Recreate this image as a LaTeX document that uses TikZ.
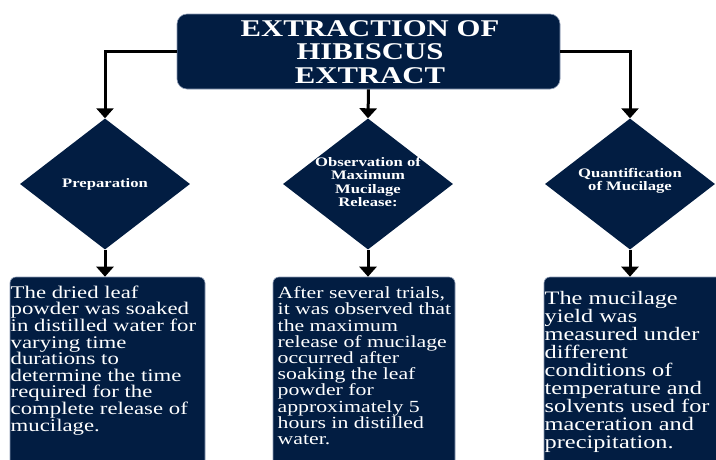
\documentclass[tikz,border=0pt]{standalone}
\usepackage{fontspec}
\usetikzlibrary{shapes.geometric,arrows.meta}
\setmainfont{Liberation Serif}
\newfontfamily\wideserif[FakeStretch=1.28]{Liberation Serif}
\definecolor{navy}{RGB}{2,29,66}
\definecolor{rim}{RGB}{140,155,180}
\begin{document}
\begin{tikzpicture}[x=1pt,y=-1pt,
  panel/.style={fill=navy,draw=rim,line width=0.6pt},
  headbox/.style={panel,rounded corners=10pt,minimum width=383pt,minimum height=75pt,inner sep=0pt},
  decision/.style={diamond,fill=navy,minimum width=170pt,minimum height=131pt,inner sep=0pt},
  decisiontext/.style={text=white,align=center,inner sep=0pt,
    font=\wideserif\bfseries\fontsize{13}{13.3}\selectfont},
  stepbox/.style={panel,rounded corners=6pt,minimum height=220pt,inner sep=0pt},
  bodytext/.style={text=white,align=left,anchor=north west,inner sep=0pt},
  flow/.style={line width=3pt,-{Triangle[width=17pt,length=10pt]}}
]
\useasboundingbox (0,0) rectangle (716,459);
\clip (0,0) rectangle (716,459);
\fill[white] (0,0) rectangle (716,459);

% heading
\node[headbox] (head) at (368.5,51.5) {};
\node[text=white,align=center,inner sep=0pt,
  font=\wideserif\bfseries\fontsize{24}{23.5}\selectfont] (headtext) at (370,52)
  {EXTRACTION OF\\HIBISCUS\\EXTRACT};

% decision diamonds
\node[decision] (prep) at (105,184) {};
\node[decision] (obs) at (368,184) {};
\node[decision] (quant) at (630,184) {};
\node[decisiontext] (preptext) at (prep.center) {Preparation};
\node[decisiontext] (obstext) at (368,182) {Observation of\\Maximum\\Mucilage\\Release:};
\node[decisiontext] (quanttext) at (630,181) {Quantification\\of Mucilage};

% description panels
\node[stepbox,minimum width=195pt] (prepbox) at (107.5,387) {};
\node[stepbox,minimum width=182pt] (obsbox) at (364,387) {};
\node[stepbox,minimum width=200pt] (quantbox) at (644,387) {};

\node[bodytext,font=\wideserif\fontsize{17.8}{16.6}\selectfont] (preptxt) at (10.5,285.5)
  {The dried leaf\\powder was soaked\\in distilled water for\\varying time\\durations to\\determine the time\\required for the\\complete release of\\mucilage.};
\node[bodytext,font=\wideserif\fontsize{17}{16.2}\selectfont] (obstxt) at (277.5,286.5)
  {After several trials,\\it was observed that\\the maximum\\release of mucilage\\occurred after\\soaking the leaf\\powder for\\approximately 5\\hours in distilled\\water.};
\node[bodytext,font=\wideserif\fontsize{19}{18}\selectfont] (quanttxt) at (544.5,291.5)
  {The mucilage\\yield was\\measured under\\different\\conditions of\\temperature and\\solvents used for\\maceration and\\precipitation.};

% connectors
\draw[flow] (head.west) -| (prep.north);
\draw[flow] (head.south) -- (obs.north);
\draw[flow] (head.east) -| (quant.north);
\draw[flow] (prep.south) -- (prep.south |- prepbox.north);
\draw[flow] (obs.south) -- (obs.south |- obsbox.north);
\draw[flow] (quant.south) -- (quant.south |- quantbox.north);
\end{tikzpicture}
\end{document}
